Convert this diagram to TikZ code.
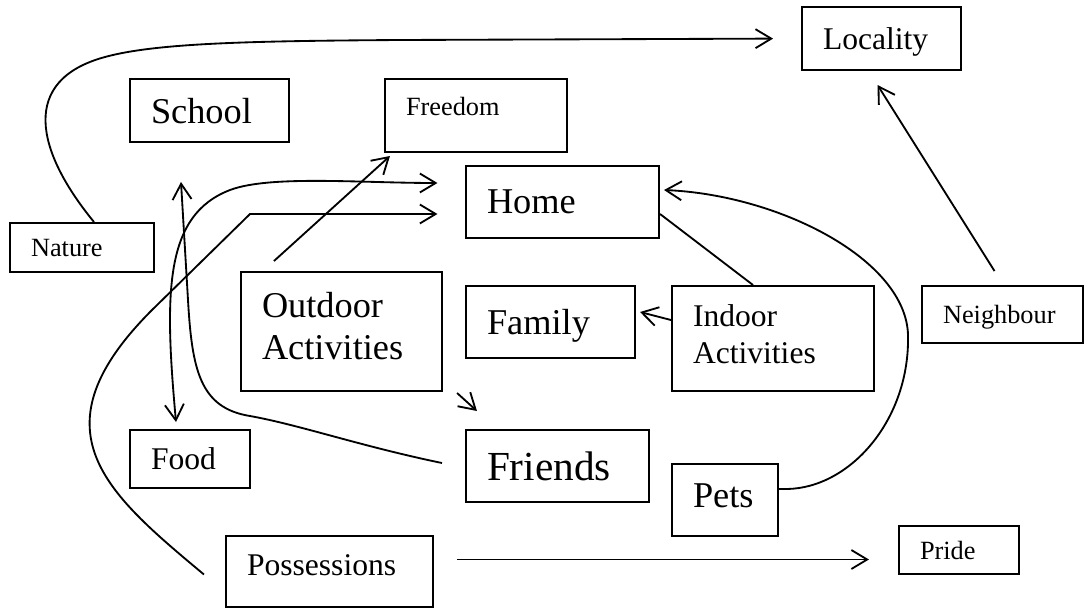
\documentclass[tikz,border=0pt]{standalone}
\usepackage{fontspec}
\setmainfont{Liberation Serif}
\usetikzlibrary{arrows.meta}
\tikzset{
    concept/.style = {rectangle, draw=black, line width=0.75pt, inner xsep=8pt, inner ysep=0pt, align=left, text depth=0pt},
    boxs/.style = {concept, font=\fontsize{10}{11.7}\selectfont},
    boxm/.style = {concept, font=\fontsize{12}{14}\selectfont},
    boxl/.style = {concept, font=\fontsize{13.8}{16.2}\selectfont},
    boxxl/.style = {concept, font=\fontsize{15.7}{18.4}\selectfont},
    edgen/.style = {-{Straight Barb[length=6pt,width=7.2pt]}, line width=0.7pt},
    edgeb/.style = {{Straight Barb[length=6pt,width=7.2pt]}-{Straight Barb[length=6pt,width=7.2pt]}, line width=0.7pt},
    edgep/.style = {line width=0.7pt}
}

\begin{document}
\begin{tikzpicture}[x=0.38pt, y=-0.38pt]
\useasboundingbox (0,0) rectangle (1086,608);

\node[boxm, text width=44.46pt, minimum height=23.94pt] at (881.5,38.5) (locality) {Locality};
\node[boxl, text width=44.46pt, minimum height=23.94pt] at (209.5,110.5) (school) {School};
\node[boxs, text width=53.2pt, minimum height=27.74pt, text depth=7.3pt] at (476,115.5) (freedom) {Freedom};
\node[boxl, text width=57.38pt, minimum height=27.36pt] at (562.5,202) (home) {Home};
\node[boxs, text width=38.76pt, minimum height=18.62pt] at (82,247.5) (nature) {Nature};
\node[boxl, text width=60.42pt, minimum height=45.22pt, text depth=20.6pt] at (341.5,331.5) (outdoor) {Outdoor\\Activities};
\node[boxl, text width=48.26pt, minimum height=27.36pt] at (550.5,322) (family) {Family};
\node[boxm, text width=60.8pt, minimum height=39.9pt, text depth=17.5pt] at (773,338.5) (indoor) {Indoor\\Activities};
\node[boxs, text width=45.22pt, minimum height=21.66pt] at (1002.5,314.5) (neighbour) {Neighbour};
\node[boxm, text width=29.64pt, minimum height=22.04pt] at (190,459) (food) {Food};
\node[boxxl, text width=53.58pt, minimum height=27.36pt] at (557.5,466) (friends) {Friends};
\node[boxl, text width=24.32pt, minimum height=27.36pt, text depth=3.5pt] at (725,500) (pets) {Pets};
\node[boxm, text width=62.7pt, minimum height=26.98pt, text depth=4.7pt] at (329.5,571.5) (possessions) {Possessions};
\node[boxs, text width=29.64pt, minimum height=18.24pt] at (959,550) (pride) {Pride};

% links
\draw[edgen, shorten >=10.6pt] ([shift={(12,0)}]nature.north) .. controls (35,150) and (20,80) .. (105,57)
    .. controls (156,43) and (250,41) .. (400,40) -- (locality.west);
\draw[edgen] ([shift={(34,-10)}]outdoor.north west) -- ([shift={(6,3)}]freedom.south west);
\draw[edgeb] ([shift={(-14,-7)}]food.north) .. controls (164,290) and (165,215) .. (230,190)
    .. controls (270,175) and (360,183) .. ([shift={(-27.5,-19)}]home.west);
\draw[edgen] ([shift={(-21,3)}]possessions.west) .. controls (105,492) and (32,430) .. (152,310)
    -- (250,214) -- ([shift={(-27.5,12)}]home.west);
\draw[edgen] ([shift={(-23,-3)}]friends.west) .. controls (360,446) and (300,425) .. (250,416)
    .. controls (200,408) and (192,370) .. (188,300) -- ([shift={(-28.5,39)}]school.south);
\draw[edgen] ([shift={(14,1)}]outdoor.south east) -- ([shift={(12,-18)}]friends.north west);
\draw[edgep] ([shift={(0,12)}]home.east) -- ([shift={(-20,0)}]indoor.north);
\draw[edgen] ([shift={(0,-18.5)}]indoor.west) -- ([shift={(4,-10)}]family.east);
\draw[edgen] ([shift={(0,-11)}]pets.east) -- (787,489) .. controls (850,488) and (910,420) .. (908,335)
    .. controls (906,260) and (780,195) .. ([shift={(4,-12)}]home.east);
\draw[edgen] ([shift={(-8,-14)}]neighbour.north) -- ([shift={(-4,14)}]locality.south);
\draw[edgen] ([shift={(23,-12)}]possessions.east) -- ([shift={(-29,9.5)}]pride.west);

\end{tikzpicture}
\end{document}
